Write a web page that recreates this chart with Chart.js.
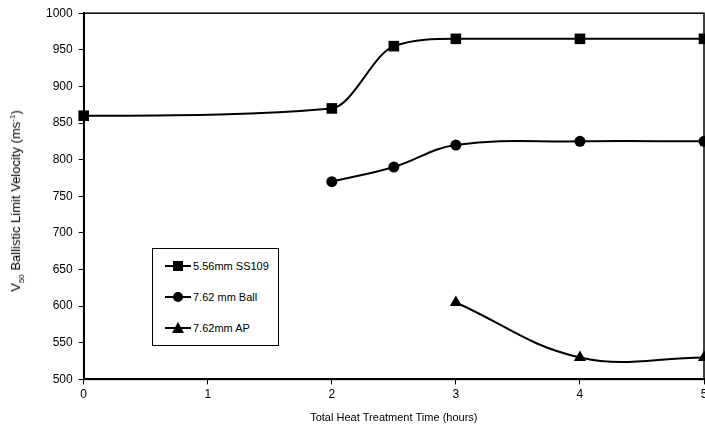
<!DOCTYPE html>
<html>
<head>
<meta charset="utf-8">
<script src="https://cdn.jsdelivr.net/npm/chart.js@4/dist/chart.umd.min.js"></script>
<style>
    html, body { margin: 0; padding: 0; background: #fff; }
    #wrap { position: relative; width: 705px; height: 433px; font-family: "Liberation Sans", Arial, sans-serif; }
    #yTitle {
        position: absolute; left: 17px; top: 201px;
        transform: translate(-50%, -50%) rotate(-90deg);
        white-space: nowrap; font-size: 13px; color: #000;
    }
    #yTitle sub, #yTitle sup { font-size: 8px; }
    #legend {
        position: absolute; left: 152px; top: 248px; width: 125px; height: 96px;
        border: 1px solid #000; background: #fff; font-size: 11px; color: #000;
    }
    .item { position: absolute; left: 12px; height: 14px; display: flex; align-items: center; }
    .item svg { margin-right: 2px; }
</style>
</head>
<body>
<div id="wrap">
    <canvas id="chart" width="705" height="433"></canvas>
    <div id="yTitle">V<sub>50</sub> Ballistic Limit Velocity (ms<sup>-1</sup>)</div>
    <div id="legend"></div>
</div>
<script>
const seriesNames = ['5.56mm SS109', '7.62 mm Ball', '7.62mm AP'];
const ss109Hours = [0, 2, 2.5, 3, 4, 5];
const ss109V50 = [860, 870, 955, 965, 965, 965];
const ballHours = [2, 2.5, 3, 4, 5];
const ballV50 = [770, 790, 820, 825, 825];
const apHours = [3, 4, 5];
const apV50 = [605, 530, 530];
const xTicks = [0, 1, 2, 3, 4, 5];
const yTicks = [500, 550, 600, 650, 700, 750, 800, 850, 900, 950, 1000];

const markers = ['rect', 'circle', 'triangle'];
const markerSize = [7.5, 5.5, 7];
const curveMode = ['monotone', 'default', 'default'];

function toPoints(xs, ys) {
    return xs.map((x, i) => ({ x: x, y: ys[i] }));
}

const seriesData = [
    toPoints(ss109Hours, ss109V50),
    toPoints(ballHours, ballV50),
    toPoints(apHours, apV50)
];

// box round the plot area, like the Excel frame
const frame = {
    id: 'frame',
    afterDraw(chart) {
        const { ctx, chartArea: a } = chart;
        ctx.save();
        ctx.strokeStyle = '#000';
        ctx.lineWidth = 1.5;
        ctx.strokeRect(a.left, a.top, a.right - a.left, a.bottom - a.top);
        ctx.restore();
    }
};

new Chart(document.getElementById('chart'), {
    type: 'line',
    data: {
        datasets: seriesData.map((pts, i) => ({
            label: seriesNames[i],
            data: pts,
            borderColor: '#000',
            backgroundColor: '#000',
            borderWidth: 2,
            tension: 0.4,
            cubicInterpolationMode: curveMode[i],
            pointStyle: markers[i],
            pointRadius: markerSize[i],
            pointBackgroundColor: '#000',
            pointBorderColor: '#000',
            pointBorderWidth: 0,
            clip: false
        }))
    },
    options: {
        responsive: false,
        animation: false,
        layout: { autoPadding: false, padding: { top: 11, right: 0, left: 40, bottom: 0 } },
        plugins: { legend: { display: false }, tooltip: { enabled: false } },
        scales: {
            x: {
                type: 'linear',
                min: xTicks[0],
                max: xTicks[xTicks.length - 1],
                afterBuildTicks: s => { s.ticks = xTicks.map(v => ({ value: v })); },
                afterFit: s => { s.paddingRight = 1; },
                grid: { drawOnChartArea: false, color: '#000', tickLength: 5, lineWidth: 1 },
                border: { color: '#000', width: 2 },
                ticks: { color: '#000', font: { family: 'Liberation Sans', size: 12 }, padding: 3, maxRotation: 0 },
                title: { display: true, text: 'Total Heat Treatment Time (hours)', color: '#000', font: { family: 'Liberation Sans', size: 11 }, padding: { top: 7, bottom: 8 } }
            },
            y: {
                min: yTicks[0],
                max: yTicks[yTicks.length - 1],
                afterBuildTicks: s => { s.ticks = yTicks.map(v => ({ value: v })); },
                grid: { drawOnChartArea: false, color: '#000', tickLength: 5, lineWidth: 1 },
                border: { color: '#000', width: 2 },
                ticks: { color: '#000', font: { family: 'Liberation Sans', size: 12 }, padding: 6, callback: v => String(v) }
            }
        }
    },
    plugins: [frame]
});

// legend drawn as html so the text stays real
const legend = document.getElementById('legend');
const glyphs = [
    '<rect x="8" y="2" width="10" height="10" fill="#000"/>',
    '<circle cx="13" cy="7" r="5" fill="#000"/>',
    '<polygon points="13,1 19,12 7,12" fill="#000"/>'
];
seriesNames.forEach((name, i) => {
    const item = document.createElement('div');
    item.className = 'item';
    item.style.top = (10 + i * 31) + 'px';
    item.innerHTML = '<svg width="26" height="14"><line x1="0" y1="7" x2="26" y2="7" stroke="#000" stroke-width="2"/>' +
        glyphs[i] + '</svg><span>' + name + '</span>';
    legend.appendChild(item);
});
</script>
</body>
</html>
